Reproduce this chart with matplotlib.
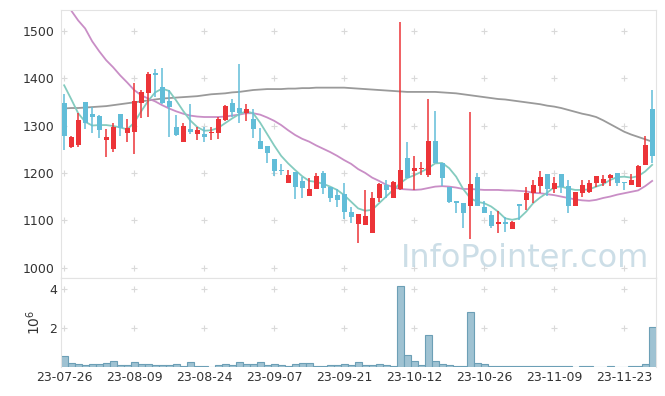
import matplotlib
matplotlib.use("Agg")
import matplotlib.pyplot as plt
import numpy as np

# daily candles, 23-07-26 .. 23-11-29 (85 trading days)
opens = [1348, 1254, 1258, 1350, 1324, 1320, 1269, 1250, 1324, 1285,
         1287, 1347, 1369, 1410, 1381, 1352, 1296, 1266, 1293, 1282,
         1282, 1284, 1285, 1312, 1348, 1336, 1327, 1313, 1267, 1257,
         1229, 1207, 1179, 1201, 1183, 1152, 1167, 1199, 1171, 1153,
         1155, 1118, 1092, 1090, 1072, 1148, 1174, 1146, 1167, 1232,
         1205, 1208, 1195, 1267, 1220, 1171, 1141, 1137, 1130, 1191,
         1127, 1111, 1092, 1096, 1082, 1134, 1143, 1157, 1172, 1197,
         1167, 1197, 1172, 1130, 1158, 1160, 1178, 1179, 1190, 1200,
         1181, 1174, 1171, 1217, 1334]
highs = [1366, 1277, 1326, 1350, 1340, 1322, 1292, 1305, 1324, 1313,
         1390, 1376, 1413, 1419, 1421, 1376, 1322, 1305, 1345, 1297,
         1297, 1296, 1319, 1343, 1356, 1431, 1345, 1334, 1294, 1257,
         1229, 1218, 1207, 1201, 1192, 1190, 1199, 1203, 1171, 1165,
         1178, 1127, 1113, 1164, 1160, 1179, 1185, 1183, 1519, 1266,
         1236, 1224, 1357, 1331, 1220, 1171, 1141, 1137, 1328, 1200,
         1141, 1120, 1120, 1107, 1099, 1134, 1171, 1185, 1203, 1197,
         1192, 1197, 1186, 1160, 1185, 1185, 1193, 1196, 1197, 1200,
         1181, 1197, 1217, 1278, 1375]
lows = [1248, 1252, 1255, 1292, 1284, 1273, 1233, 1244, 1278, 1266,
        1239, 1315, 1317, 1360, 1346, 1276, 1278, 1266, 1283, 1269,
        1266, 1269, 1271, 1310, 1317, 1306, 1310, 1273, 1250, 1221,
        1194, 1196, 1179, 1144, 1146, 1152, 1166, 1156, 1139, 1129,
        1102, 1094, 1051, 1090, 1072, 1139, 1146, 1146, 1164, 1190,
        1164, 1196, 1192, 1220, 1172, 1136, 1115, 1084, 1060, 1130,
        1115, 1083, 1072, 1076, 1082, 1101, 1122, 1136, 1157, 1151,
        1158, 1157, 1116, 1130, 1150, 1157, 1171, 1172, 1172, 1172,
        1164, 1174, 1171, 1217, 1220]
closes = [1278, 1276, 1312, 1306, 1319, 1290, 1276, 1297, 1294, 1294,
          1352, 1370, 1409, 1406, 1348, 1340, 1279, 1299, 1287, 1290,
          1276, 1287, 1313, 1341, 1329, 1327, 1335, 1293, 1250, 1243,
          1205, 1205, 1195, 1171, 1169, 1166, 1193, 1169, 1148, 1143,
          1118, 1106, 1113, 1109, 1146, 1177, 1164, 1180, 1206, 1190,
          1210, 1211, 1268, 1220, 1190, 1139, 1136, 1115, 1176, 1130,
          1115, 1088, 1096, 1092, 1097, 1130, 1158, 1174, 1192, 1167,
          1178, 1170, 1130, 1160, 1174, 1178, 1193, 1188, 1195, 1179,
          1179, 1186, 1215, 1259, 1236]
# volume in millions
volume = [0.56, 0.19, 0.14, 0.09, 0.14, 0.14, 0.19, 0.31, 0.09, 0.09,
          0.26, 0.14, 0.14, 0.09, 0.09, 0.09, 0.14, 0.03, 0.26, 0.05,
          0.05, 0.01, 0.09, 0.14, 0.09, 0.26, 0.14, 0.14, 0.26, 0.09,
          0.14, 0.09, 0.03, 0.14, 0.20, 0.20, 0.03, 0.03, 0.09, 0.09,
          0.14, 0.09, 0.24, 0.09, 0.09, 0.14, 0.09, 0.03, 4.14, 0.60,
          0.30, 0.09, 1.63, 0.33, 0.17, 0.12, 0.07, 0.07, 2.80, 0.22,
          0.14, 0.03, 0.03, 0.03, 0.07, 0.03, 0.03, 0.07, 0.07, 0.03,
          0.03, 0.03, 0.03, 0.01, 0.03, 0.03, 0.01, 0.01, 0.03, 0.01,
          0.01, 0.07, 0.07, 0.17, 2.07]
# moving averages as drawn (5, 20, 120 days)
ma5 = [1385, 1356, 1326, 1308, 1300, 1301, 1301, 1299, 1296, 1292,
       1306, 1330, 1352, 1370, 1378, 1373, 1353, 1331, 1311, 1297,
       1289, 1290, 1295, 1305, 1315, 1324, 1330, 1326, 1306, 1282,
       1258, 1236, 1220, 1206, 1193, 1183, 1181, 1177, 1171, 1164,
       1153, 1139, 1125, 1120, 1122, 1136, 1150, 1164, 1178, 1189,
       1195, 1202, 1210, 1220, 1221, 1210, 1192, 1166, 1147, 1139,
       1136, 1129, 1118, 1104, 1101, 1104, 1118, 1136, 1148, 1158,
       1170, 1171, 1167, 1164, 1164, 1165, 1171, 1176, 1185, 1191,
       1192, 1190, 1193, 1203, 1217]
ma20 = [1564, 1543, 1522, 1505, 1478, 1457, 1438, 1423, 1406, 1391,
        1375, 1364, 1357, 1351, 1343, 1336, 1330, 1325, 1321, 1319,
        1318, 1318, 1318, 1319, 1321, 1323, 1326, 1326, 1323, 1317,
        1310, 1301, 1290, 1280, 1272, 1266, 1258, 1251, 1244, 1236,
        1227, 1219, 1208, 1200, 1190, 1183, 1175, 1170, 1166, 1165,
        1164, 1165, 1168, 1171, 1172, 1171, 1169, 1166, 1166, 1165,
        1164, 1164, 1164, 1163, 1163, 1162, 1161, 1158, 1157, 1155,
        1153, 1150, 1147, 1144, 1142, 1141, 1143, 1147, 1150, 1154,
        1157, 1160, 1163, 1172, 1183]
ma120 = [1336, 1337, 1337, 1338, 1339, 1340, 1341, 1343, 1345, 1347,
         1349, 1351, 1353, 1355, 1357, 1358, 1359, 1360, 1361, 1362,
         1364, 1366, 1367, 1368, 1370, 1371, 1373, 1375, 1376, 1377,
         1377, 1377, 1378, 1378, 1379, 1379, 1380, 1380, 1380, 1380,
         1380, 1379, 1378, 1377, 1376, 1375, 1374, 1373, 1372, 1371,
         1371, 1371, 1371, 1371, 1370, 1369, 1368, 1366, 1364, 1362,
         1360, 1358, 1356, 1355, 1353, 1351, 1349, 1347, 1345, 1342,
         1340, 1337, 1333, 1329, 1325, 1322, 1318, 1311, 1303, 1295,
         1287, 1281, 1276, 1271, 1266]
tick_labels = ['23-07-26', '23-08-09', '23-08-24', '23-09-07', '23-09-21',
               '23-10-12', '23-10-26', '23-11-09', '23-11-23']
price_ticks = [1000, 1100, 1200, 1300, 1400, 1500]
vol_ticks = [2, 4]

UP = '#ec3438'
DOWN = '#62bdd8'
GRID = '#d9d9d9'
SPINE = '#e3e3e3'
TXT = '#333333'

o = np.array(opens, float)
h = np.array(highs, float)
l = np.array(lows, float)
c = np.array(closes, float)
x = np.arange(len(o))
xticks = np.arange(0, len(o), 10)

fig = plt.figure(figsize=(6.65, 3.96), dpi=100)
ax = fig.add_axes([61/665, 1-278/396, 595/665, 268/396])
axv = fig.add_axes([61/665, 1-367/396, 595/665, 89/396], sharex=ax)

# grid crosses
gx, gy = np.meshgrid(xticks, price_ticks)
ax.scatter(gx.ravel(), gy.ravel(), marker='+', s=22, color=GRID, lw=0.8, zorder=0)
gx2, gy2 = np.meshgrid(xticks, vol_ticks)
axv.scatter(gx2.ravel(), gy2.ravel(), marker='+', s=22, color=GRID, lw=0.8, zorder=0)

# moving averages
ax.plot(x, ma120, color='#9a9a9a', lw=1.3, zorder=1)
ax.plot(x, ma20, color='#c98ec6', lw=1.3, zorder=1)
ax.plot(x, ma5, color='#84cbbf', lw=1.3, zorder=1)

# candles
colors = np.where(c >= o, UP, DOWN)
ax.vlines(x, l, h, colors=colors, lw=1.1, zorder=2)
body = np.maximum(np.abs(c - o), 1.2)
ax.bar(x, body, bottom=np.minimum(o, c), width=0.72, color=colors, zorder=3)

ax.text(0.988, 0.015, 'InfoPointer.com', transform=ax.transAxes, ha='right', va='bottom',
        fontsize=23, color='#bcd3df', alpha=0.75,
        family=['Liberation Sans Narrow', 'DejaVu Sans'], zorder=0)

ax.set_xlim(-0.45, 84.55)
ax.set_ylim(978, 1544)
ax.set_yticks(price_ticks)
ax.tick_params(axis='x', labelbottom=False, length=0)
ax.tick_params(axis='y', length=0, labelsize=9, colors=TXT, pad=5)

# volume
axv.bar(x, volume, width=1.0, color='#9fc2d2', edgecolor='#6c9fb6', lw=0.8)
axv.set_ylim(0, 4.56)
axv.set_yticks(vol_ticks)
axv.set_yticklabels(['2', '4'])
axv.set_ylabel(r'$10^6$', fontsize=10, color=TXT, labelpad=4)
axv.set_xticks(xticks)
axv.set_xticklabels(tick_labels)
axv.tick_params(length=0, labelsize=9, colors=TXT, pad=3)

for a in (ax, axv):
    for s in a.spines.values():
        s.set_color(SPINE)
axv.spines['bottom'].set_visible(False)

fig.savefig('out.png', dpi=100, facecolor='white')
